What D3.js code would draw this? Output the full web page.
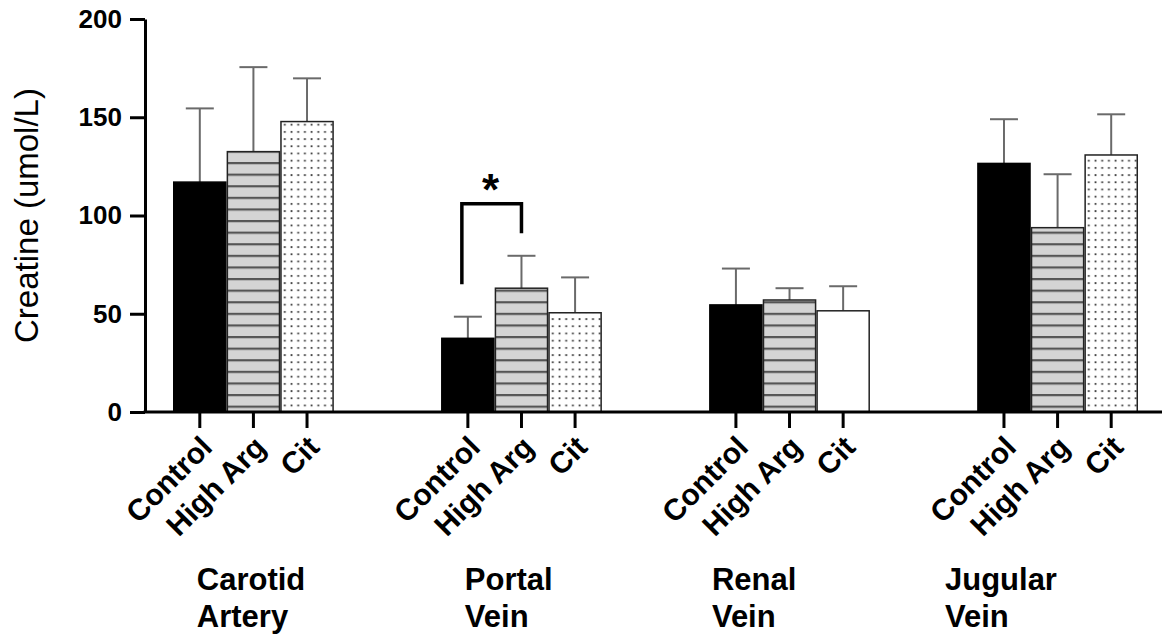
<!DOCTYPE html>
<html>
<head>
<meta charset="utf-8">
<script src="https://cdn.jsdelivr.net/npm/d3@7"></script>
<style>
  html, body { margin: 0; padding: 0; background: #fff; }
  svg { display: block; font-family: "Liberation Sans", Arial, Helvetica, sans-serif; }
</style>
</head>
<body>
<svg id="chart" width="1162" height="634"></svg>
<script>
// Creatine concentration by vessel and diet group
const groups = ["Carotid Artery", "Portal Vein", "Renal Vein", "Jugular Vein"];
const treatments = ["Control", "High Arg", "Cit"];

// Mean values (umol/L), one entry per vessel
const controlMean = [117.0, 37.5, 54.5, 126.5];
const highArgMean = [132.5, 63.0, 57.0, 93.8];
const citMean     = [147.8, 50.5, 51.5, 130.8];

// Upper error (SD), one entry per vessel
const controlErr = [37.5, 11.0, 18.5, 22.5];
const highArgErr = [43.0, 16.5, 6.0, 27.2];
const citErr     = [22.0, 18.0, 12.5, 20.7];

const yTicks = [0, 50, 100, 150, 200];
const yTitle = "Creatine (umol/L)";

// Significance bracket (values in umol/L)
const comparisons = [
  { group: "Portal Vein", from: "Control", to: "High Arg", top: 106, fromEnd: 65, toEnd: 91, label: "*" }
];

const means = [controlMean, highArgMean, citMean];
const errs = [controlErr, highArgErr, citErr];

const rows = [];
groups.forEach((g, gi) => {
  treatments.forEach((t, ti) => {
    rows.push({ group: g, gi, treatment: t, ti, mean: means[ti][gi], err: errs[ti][gi] });
  });
});

const svg = d3.select("#chart");
const font = '"Liberation Sans", Arial, Helvetica, sans-serif';

const plot = { left: 173, right: 1138, top: 19, bottom: 412 };
const axisX = 145;

const y = d3.scaleLinear().domain([0, 200]).range([plot.bottom, plot.top]);
const xGroup = d3.scaleBand().domain(groups).range([plot.left, plot.right])
  .paddingInner(0.4).paddingOuter(0);
const xTreat = d3.scaleBand().domain(treatments).range([0, xGroup.bandwidth()]).padding(0);

const barX = d => xGroup(d.group) + xTreat(d.treatment);
const barC = d => barX(d) + xTreat.bandwidth() / 2;

// Fill patterns
const defs = svg.append("defs");
const stripe = defs.append("pattern")
  .attr("id", "stripes")
  .attr("patternUnits", "userSpaceOnUse")
  .attr("width", 20).attr("height", 11.6)
  .attr("y", y(0) - 6.4);
stripe.append("rect").attr("width", 20).attr("height", 11.6).attr("fill", "#d4d4d4");
stripe.append("rect").attr("y", 0).attr("width", 20).attr("height", 2.2).attr("fill", "#555");

const dots = defs.append("pattern")
  .attr("id", "dots")
  .attr("patternUnits", "userSpaceOnUse")
  .attr("width", 6.7).attr("height", 7.2)
  .attr("x", 0).attr("y", y(0) - 3);
dots.append("rect").attr("width", 6.7).attr("height", 7.2).attr("fill", "#fff");
dots.append("rect").attr("x", 2.5).attr("y", 2.8).attr("width", 1.8).attr("height", 1.8).attr("fill", "#3a3a3a");

const fillFor = d => {
  if (d.treatment === "Control") return "#000";
  if (d.treatment === "High Arg") return "url(#stripes)";
  if (d.group === "Renal Vein") return "#fff";
  return "url(#dots)";
};
const strokeFor = d => d.treatment === "Control" ? "#000" : "#222";

// Error bars (drawn first so bars sit over the stem base)
const eb = svg.append("g").attr("stroke", "#6a6a6a").attr("stroke-width", 2).attr("fill", "none");
eb.selectAll("line.stem").data(rows).join("line")
  .attr("class", "stem")
  .attr("x1", barC).attr("x2", barC)
  .attr("y1", d => y(d.mean)).attr("y2", d => y(d.mean + d.err));
eb.selectAll("line.cap").data(rows).join("line")
  .attr("class", "cap")
  .attr("x1", d => barC(d) - 14).attr("x2", d => barC(d) + 14)
  .attr("y1", d => y(d.mean + d.err)).attr("y2", d => y(d.mean + d.err));

// Bars
svg.append("g").selectAll("rect").data(rows).join("rect")
  .attr("x", d => barX(d) + 0.75)
  .attr("y", d => y(d.mean))
  .attr("width", xTreat.bandwidth() - 1.5)
  .attr("height", d => y(0) - y(d.mean))
  .attr("fill", fillFor)
  .attr("stroke", strokeFor)
  .attr("stroke-width", 1.5);

// Y axis
const yAxis = svg.append("g")
  .attr("transform", `translate(${axisX},0)`)
  .call(d3.axisLeft(y).tickValues(yTicks).tickSize(15).tickSizeOuter(0).tickPadding(8));
yAxis.select(".domain").attr("stroke", "#000").attr("stroke-width", 3);
yAxis.selectAll(".tick line").attr("stroke", "#000").attr("stroke-width", 3);
yAxis.selectAll(".tick text")
  .attr("font-family", font).attr("font-size", 26).attr("font-weight", "bold").attr("fill", "#000");

// X axis baseline and ticks
svg.append("line")
  .attr("x1", axisX - 1.5).attr("x2", 1162)
  .attr("y1", y(0)).attr("y2", y(0))
  .attr("stroke", "#000").attr("stroke-width", 3);

svg.append("g").selectAll("line").data(rows).join("line")
  .attr("x1", barC).attr("x2", barC)
  .attr("y1", y(0)).attr("y2", y(0) + 16)
  .attr("stroke", "#000").attr("stroke-width", 3);

svg.append("g").selectAll("text").data(rows).join("text")
  .attr("transform", d => `translate(${barC(d) + 14},${y(0) + 37}) rotate(-45)`)
  .attr("text-anchor", "end")
  .attr("font-family", font).attr("font-size", 30).attr("font-weight", "bold")
  .attr("fill", "#000")
  .text(d => d.treatment);

// Group labels (two lines each)
const groupLabelShift = { "Carotid Artery": -3, "Portal Vein": -3, "Renal Vein": -24, "Jugular Vein": -59 };
const gl = svg.append("g").selectAll("text").data(groups).join("text")
  .attr("font-family", font).attr("font-size", 31).attr("font-weight", "bold").attr("fill", "#000")
  .attr("transform", g => `translate(${xGroup(g) + xTreat.bandwidth() / 2 + groupLabelShift[g]},590)`);
gl.each(function (g) {
  const parts = g.split(" ");
  d3.select(this).selectAll("tspan").data(parts).join("tspan")
    .attr("x", 0).attr("dy", (p, i) => i === 0 ? 0 : 37)
    .text(p => p);
});

// Y title
svg.append("text")
  .attr("transform", `translate(38,${(plot.top + plot.bottom) / 2}) rotate(-90)`)
  .attr("text-anchor", "middle")
  .attr("font-family", font).attr("font-size", 33).attr("fill", "#000")
  .text(yTitle);

// Significance brackets
comparisons.forEach(c => {
  const r1 = rows.find(r => r.group === c.group && r.treatment === c.from);
  const r2 = rows.find(r => r.group === c.group && r.treatment === c.to);
  const x1 = barC(r1) - 6, x2 = barC(r2);
  svg.append("path")
    .attr("d", `M${x1},${y(c.fromEnd)}V${y(c.top)}H${x2}V${y(c.toEnd)}`)
    .attr("fill", "none").attr("stroke", "#000").attr("stroke-width", 3.5);
  svg.append("text")
    .attr("x", (x1 + x2) / 2 - 1).attr("y", y(c.top) + 1)
    .attr("text-anchor", "middle")
    .attr("font-family", font).attr("font-size", 44).attr("font-weight", "bold").attr("fill", "#000")
    .text(c.label);
});
</script>
</body>
</html>
